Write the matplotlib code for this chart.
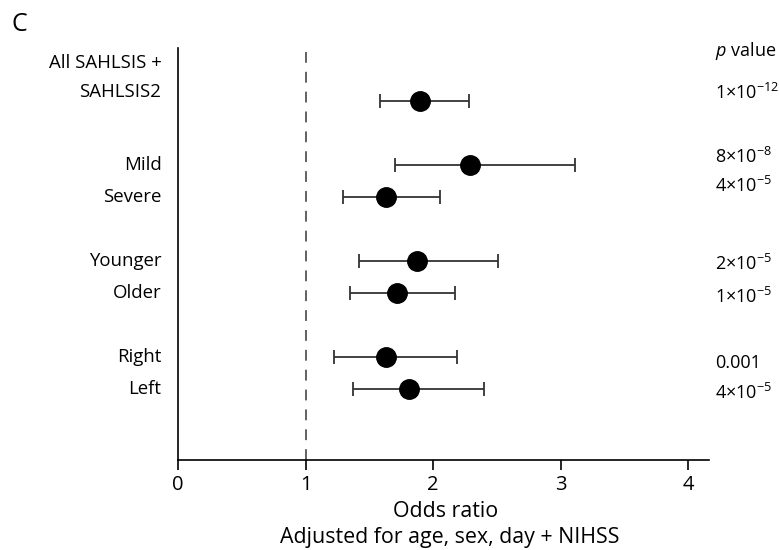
import matplotlib
matplotlib.use("Agg")
import matplotlib.pyplot as plt

plt.rcParams['font.family'] = ['Open Sans', 'DejaVu Sans']
plt.rcParams['mathtext.fontset'] = 'custom'
plt.rcParams['mathtext.rm'] = 'Open Sans'
plt.rcParams['mathtext.it'] = 'Open Sans:italic'

labels = ["All SAHLSIS +\nSAHLSIS2", "Mild", "Severe", "Younger", "Older", "Right", "Left"]
odds = [1.90, 2.29, 1.63, 1.87, 1.715, 1.63, 1.81]
ci_low = [1.58, 1.70, 1.29, 1.415, 1.345, 1.22, 1.37]
ci_high = [2.28, 3.11, 2.05, 2.51, 2.17, 2.19, 2.40]
p_values = [r"1×10$^{\mathrm{-12}}$", r"8×10$^{\mathrm{-8}}$", r"4×10$^{\mathrm{-5}}$",
            r"2×10$^{\mathrm{-5}}$", r"1×10$^{\mathrm{-5}}$", "0.001", r"4×10$^{\mathrm{-5}}$"]

# row positions (one unit per row, blank rows between groups)
rows = [0, 2, 3, 5, 6, 8, 9]
p_shift = [-0.25, -0.25, -0.35, 0.1, 0.12, 0.18, 0.12]

fig = plt.figure(figsize=(7.79, 5.5), dpi=100)
ax = fig.add_axes([0.2285, 0.1636, 0.6815, 0.7491])

for y, o, lo, hi in zip(rows, odds, ci_low, ci_high):
    ax.errorbar(o, y, xerr=[[o - lo], [hi - o]], fmt='none', ecolor='#333333',
                elinewidth=1.3, capsize=5, capthick=1.3, zorder=2)
ax.plot(odds, rows, 'o', color='black', markersize=14, zorder=3)

ax.axvline(1, color='#555555', lw=1.3, dashes=(6, 5), zorder=1)

ax.set_xlim(0, 4.16)
ax.set_ylim(11.2, -1.65)
ax.set_xticks([0, 1, 2, 3, 4])
ax.tick_params(axis='x', length=7, width=1.2, labelsize=14.5, pad=4)
ax.set_yticks([])
for s in ['top', 'right']:
    ax.spines[s].set_visible(False)
for s in ['left', 'bottom']:
    ax.spines[s].set_linewidth(1.2)

for y, lab in zip(rows, labels):
    yy = y - 0.72 if "\n" in lab else y
    ax.text(-0.13, yy, lab, ha='right', va='center', fontsize=13.4,
            linespacing=1.8, clip_on=False)

for y, d, p in zip(rows, p_shift, p_values):
    ax.text(4.21, y + d, p, ha='left', va='center', fontsize=13, clip_on=False)
ax.text(4.21, -1.55, r"$\mathit{p}$ value", ha='left', va='center', fontsize=13, clip_on=False)

fig.text(0.572, 0.060, "Odds ratio", ha='center', va='baseline', fontsize=15.4)
fig.text(0.577, 0.0127, "Adjusted for age, sex, day + NIHSS", ha='center', va='baseline', fontsize=15.4)
fig.text(0.015, 0.956, "C", ha='left', va='center', fontsize=18)

fig.savefig("out.png", dpi=100)
